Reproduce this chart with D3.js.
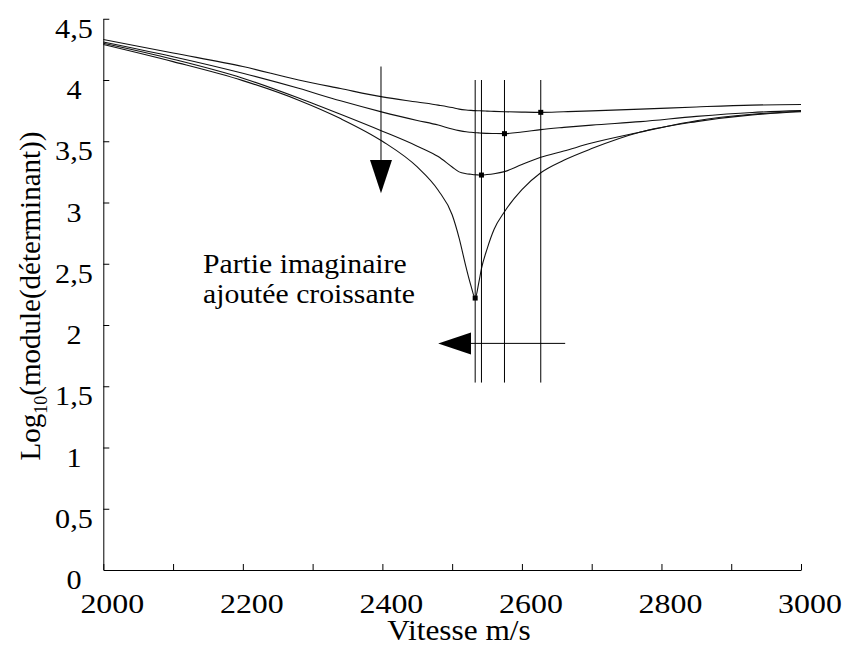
<!DOCTYPE html>
<html>
<head>
<meta charset="utf-8" />
<title>Log10(module(determinant)) vs vitesse</title>
<script src="https://cdnjs.cloudflare.com/ajax/libs/d3/7.8.5/d3.min.js"></script>
<style>
  body { margin: 0; padding: 0; background: #fff; }
  svg { display: block; font-family: "Liberation Serif", "Times New Roman", "DejaVu Serif", serif; }
</style>
</head>
<body>
<div id="chart"></div>
<script>
// vitesse (m/s) commune aux 4 courbes
var vitesse = [2000, 2100, 2200, 2280, 2340, 2400, 2450, 2480, 2500, 2510, 2520, 2527, 2533,
               2538, 2542, 2550, 2560, 2575, 2600, 2627, 2660, 2700, 2770, 2850, 2930, 3000];
// log10(module(det)) pour partie imaginaire croissante
var courbe1 = [4.33, 4.22, 4.11, 4.00, 3.93, 3.862, 3.82, 3.795, 3.775, 3.762, 3.755, 3.752, 3.75,
               3.749, 3.748, 3.746, 3.744, 3.741, 3.738, 3.736, 3.741, 3.748, 3.762, 3.78, 3.795, 3.80];
var courbe2 = [4.31, 4.19, 4.055, 3.932, 3.83, 3.738, 3.67, 3.632, 3.60, 3.587, 3.577, 3.573, 3.57,
               3.568, 3.566, 3.564, 3.563, 3.562, 3.575, 3.595, 3.613, 3.632, 3.66, 3.703, 3.735, 3.75];
var courbe3 = [4.30, 4.17, 4.015, 3.853, 3.72, 3.582, 3.46, 3.375, 3.29, 3.25, 3.235, 3.23, 3.226,
               3.225, 3.224, 3.228, 3.235, 3.252, 3.31, 3.369, 3.42, 3.485, 3.575, 3.668, 3.72, 3.745];
var courbe4 = [4.29, 4.15, 3.995, 3.835, 3.685, 3.50, 3.29, 3.10, 2.90, 2.71, 2.47, 2.32, 2.22,
               2.34, 2.46, 2.62, 2.78, 2.925, 3.105, 3.243, 3.345, 3.44, 3.575, 3.66, 3.715, 3.741];

// minima reperes + droites verticales
var minX = [2533, 2542, 2575, 2627];
var minY = [2.22, 3.224, 3.562, 3.736];
var verticalY = [1.53, 4.0];

// fleches
var flecheBas = {x: 2398, y0: 4.11, base: 3.347, pointe: 3.075};
var flecheGauche = {y: 1.85, x0: 2662, base: 2527, pointe: 2480};

var xTicks = d3.range(2000, 3001, 100);
var xLabels = [2000, 2200, 2400, 2600, 2800, 3000];
var yTicks = [0, 0.5, 1, 1.5, 2, 2.5, 3, 3.5, 4, 4.5];

var W = 847, H = 648;
var svg = d3.select("#chart").append("svg").attr("width", W).attr("height", H);
var serif = '"Liberation Serif", "Times New Roman", "DejaVu Serif", serif';

var x = d3.scaleLinear().domain([2000, 3000]).range([103.3, 801]);
var y = d3.scaleLinear().domain([0, 4.5]).range([570, 18.75]);

var fmt = function(v) { return String(v).replace(".", ","); };

// axes (ticks vers l'interieur)
var gx = svg.append("g").attr("transform", "translate(0," + y(0) + ")")
  .call(d3.axisTop(x).tickValues(xTicks).tickSize(6).tickFormat("").tickSizeOuter(0));
var gy = svg.append("g").attr("transform", "translate(" + x(2000) + ",0)")
  .call(d3.axisRight(y).tickValues(yTicks).tickSize(6).tickFormat("").tickSizeOuter(0));
svg.selectAll(".domain, .tick line").attr("stroke", "#000").attr("stroke-width", 1);
gy.selectAll(".tick").filter(function(d) { return d === 0; }).remove();

// etiquettes (un peu decalees par rapport aux graduations, comme l'original)
svg.selectAll(".xl").data(xLabels).enter().append("text")
  .attr("class", "xl")
  .attr("transform", function(d) { return "translate(" + (x(d) + 9) + ",613) scale(1.14,1)"; })
  .attr("text-anchor", "middle")
  .attr("font-family", serif)
  .style("font-size", "28px")
  .text(function(d) { return d; });

svg.selectAll(".yl").data(yTicks).enter().append("text")
  .attr("class", "yl")
  .attr("transform", function(d) { return "translate(74," + (y(d) + 19) + ") scale(1.12,1)"; })
  .attr("text-anchor", "middle")
  .attr("font-family", serif)
  .style("font-size", "27px")
  .text(fmt);

svg.append("text")
  .attr("transform", "translate(459,640) scale(1.08,1)")
  .attr("text-anchor", "middle")
  .attr("font-family", serif)
  .style("font-size", "29px")
  .text("Vitesse m/s");

var yt = svg.append("text")
  .attr("transform", "translate(40,296) rotate(-90)")
  .attr("text-anchor", "middle")
  .attr("font-family", serif)
  .style("font-size", "29px");
yt.append("tspan").text("Log");
yt.append("tspan").attr("dy", 7).style("font-size", "18px").text("10");
yt.append("tspan").attr("dy", -7).text("(module(déterminant))");

// courbes
var line = d3.line()
  .curve(d3.curveMonotoneX)
  .x(function(d) { return x(d[0]); })
  .y(function(d) { return y(d[1]); });

[courbe1, courbe2, courbe3, courbe4].forEach(function(c) {
  svg.append("path")
    .datum(vitesse.map(function(v, i) { return [v, c[i]]; }))
    .attr("d", line)
    .attr("fill", "none")
    .attr("stroke", "#111")
    .attr("stroke-width", 1.1);
});

// verticales aux minima
svg.selectAll(".vl").data(minX).enter().append("line")
  .attr("x1", function(d) { return x(d); }).attr("x2", function(d) { return x(d); })
  .attr("y1", y(verticalY[1])).attr("y2", y(verticalY[0]))
  .attr("stroke", "#000").attr("stroke-width", 1);

svg.selectAll(".mk").data(minX).enter().append("rect")
  .attr("x", function(d) { return x(d) - 2.5; })
  .attr("y", function(d, i) { return y(minY[i]) - 2.5; })
  .attr("width", 5).attr("height", 5)
  .attr("fill", "#000");

// fleche vers le bas
svg.append("line")
  .attr("x1", x(flecheBas.x)).attr("x2", x(flecheBas.x))
  .attr("y1", y(flecheBas.y0)).attr("y2", y(flecheBas.base))
  .attr("stroke", "#000");
svg.append("path")
  .attr("d", "M" + (x(flecheBas.x) - 11) + "," + y(flecheBas.base) +
             "L" + (x(flecheBas.x) + 11) + "," + y(flecheBas.base) +
             "L" + x(flecheBas.x) + "," + y(flecheBas.pointe) + "Z")
  .attr("fill", "#000");

// fleche vers la gauche
svg.append("line")
  .attr("x1", x(flecheGauche.x0)).attr("x2", x(flecheGauche.base))
  .attr("y1", y(flecheGauche.y)).attr("y2", y(flecheGauche.y))
  .attr("stroke", "#000");
svg.append("path")
  .attr("d", "M" + x(flecheGauche.base) + "," + (y(flecheGauche.y) - 11) +
             "L" + x(flecheGauche.base) + "," + (y(flecheGauche.y) + 11) +
             "L" + x(flecheGauche.pointe) + "," + y(flecheGauche.y) + "Z")
  .attr("fill", "#000");

// annotation
var ann = svg.append("text")
  .attr("transform", "translate(203,273) scale(1.1,1)")
  .attr("font-family", serif)
  .style("font-size", "27px");
ann.append("tspan").attr("x", 0).attr("y", 0).text("Partie imaginaire");
ann.append("tspan").attr("x", 0).attr("y", 30).text("ajoutée croissante");
</script>
</body>
</html>
